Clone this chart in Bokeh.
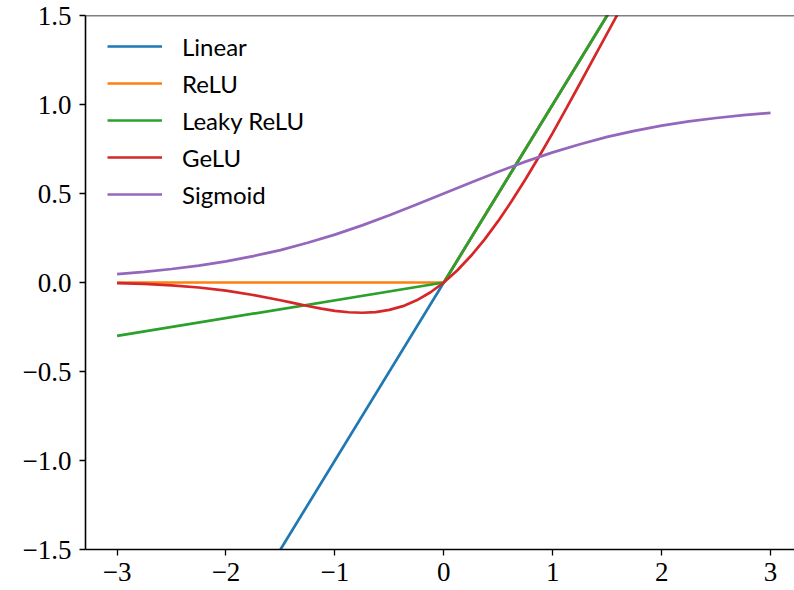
from bokeh.plotting import figure
from bokeh.models import Range1d, FixedTicker, CustomJSTickFormatter, Span, Legend, LegendItem
from bokeh.embed import file_html
from bokeh.resources import INLINE

# ---- data ----
lin_x = [-3.0, 3.0]
lin_y = [-3.0, 3.0]

relu_x = [-3.0, 0.0, 3.0]
relu_y = [0.0, 0.0, 3.0]

leaky_x = [-3.0, 0.0, 3.0]
leaky_y = [-0.3, 0.0, 3.0]

gelu_x = [-3.0, -2.75, -2.5, -2.25, -2.0, -1.75, -1.5, -1.375, -1.25, -1.125, -1.0,
          -0.875, -0.75, -0.625, -0.5, -0.375, -0.25, -0.125, 0.0, 0.125, 0.25,
          0.375, 0.5, 0.625, 0.75, 0.875, 1.0, 1.125, 1.25, 1.375, 1.5, 1.625,
          1.75, 2.0, 2.5, 3.0]
gelu_y = [-0.004, -0.008, -0.016, -0.028, -0.046, -0.070, -0.100, -0.116, -0.132,
          -0.147, -0.159, -0.167, -0.170, -0.166, -0.154, -0.133, -0.100, -0.056,
          0.0, 0.069, 0.150, 0.242, 0.346, 0.459, 0.580, 0.708, 0.841, 0.978,
          1.118, 1.259, 1.400, 1.540, 1.680, 1.955, 2.484, 2.996]

sig_x = [-3.0, -2.75, -2.5, -2.25, -2.0, -1.75, -1.5, -1.25, -1.0, -0.75, -0.5,
         -0.25, 0.0, 0.25, 0.5, 0.75, 1.0, 1.25, 1.5, 1.75, 2.0, 2.25, 2.5, 2.75, 3.0]
sig_y = [0.047, 0.060, 0.076, 0.095, 0.119, 0.148, 0.182, 0.223, 0.269, 0.321,
         0.378, 0.438, 0.500, 0.562, 0.622, 0.679, 0.731, 0.777, 0.818, 0.852,
         0.881, 0.905, 0.924, 0.940, 0.953]

series_names = ["Linear", "ReLU", "Leaky ReLU", "GeLU", "Sigmoid"]
series_colors = ["#1f77b4", "#ff7f0e", "#2ca02c", "#d62728", "#9467bd"]

x_ticks = [-3, -2, -1, 0, 1, 2, 3]
x_tick_labels = ["\u22123", "\u22122", "\u22121", "0", "1", "2", "3"]
y_ticks = [-1.5, -1.0, -0.5, 0.0, 0.5, 1.0, 1.5]
y_tick_labels = ["\u22121.5", "\u22121.0", "\u22120.5", "0.0", "0.5", "1.0", "1.5"]

p = figure(width=794, height=590, output_backend="svg", toolbar_location=None,
           x_range=Range1d(-3.290, 3.220), y_range=Range1d(-1.5, 1.5),
           min_border_left=85, min_border_right=0, min_border_top=15, min_border_bottom=41)
p.outline_line_color = None
p.grid.visible = False
p.background_fill_color = "white"
p.border_fill_color = "white"

renderers = []
for xs, ys, c in zip([lin_x, relu_x, leaky_x, gelu_x, sig_x],
                     [lin_y, relu_y, leaky_y, gelu_y, sig_y], series_colors):
    r = p.line(xs, ys, line_color=c, line_width=2.7)
    renderers.append(r)

p.add_layout(Span(location=1.5, dimension="width", line_color="black", line_width=1.6))

fmt_code = """
let best = 0; let bd = 1e9;
for (let i = 0; i < tv.length; i++) { const d = Math.abs(tv[i] - tick); if (d < bd) { bd = d; best = i; } }
return tl[best];
"""
p.xaxis.ticker = FixedTicker(ticks=x_ticks)
p.yaxis.ticker = FixedTicker(ticks=y_ticks)
p.xaxis.formatter = CustomJSTickFormatter(args=dict(tv=x_ticks, tl=x_tick_labels), code=fmt_code)
p.yaxis.formatter = CustomJSTickFormatter(args=dict(tv=y_ticks, tl=y_tick_labels), code=fmt_code)

for ax in (p.xaxis, p.yaxis):
    ax.axis_line_color = "black"
    ax.axis_line_width = 1.6
    ax.major_tick_line_color = "black"
    ax.major_tick_line_width = 1.3
    ax.major_tick_in = 0
    ax.major_tick_out = 6
    ax.minor_tick_line_color = None
    ax.major_label_text_font = "Liberation Serif"
    ax.major_label_text_font_size = "27px"
    ax.major_label_text_color = "black"
p.xaxis.major_label_standoff = 7
p.yaxis.major_label_standoff = 8

items = [LegendItem(label=n, renderers=[r]) for n, r in zip(series_names, renderers)]
legend = Legend(items=items, location=(22, 340), border_line_color=None,
                background_fill_alpha=0, padding=0, margin=0, spacing=7,
                glyph_width=55, glyph_height=30, label_height=30,
                label_standoff=20, label_text_font="Lato",
                label_text_font_size="24px", label_text_color="black")
p.add_layout(legend)

open("out.html", "w").write(file_html(p, INLINE))
